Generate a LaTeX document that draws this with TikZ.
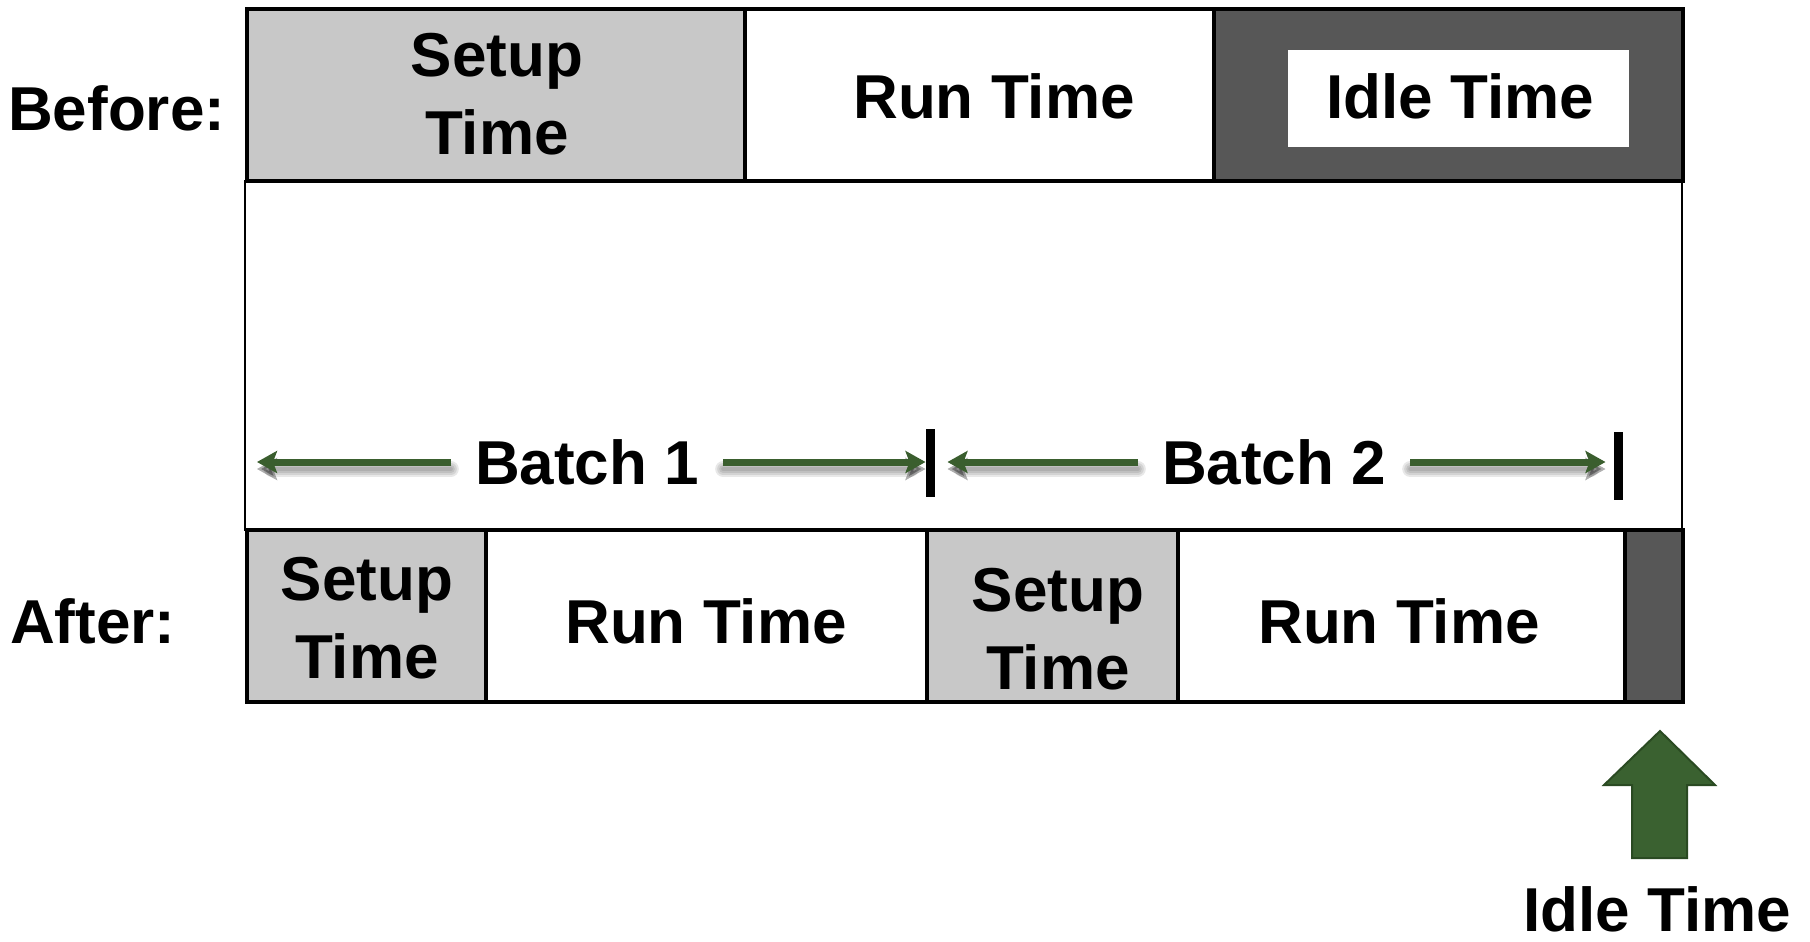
\documentclass[tikz,border=0pt]{standalone}
\usepackage{fontspec}
\setmainfont{Liberation Sans}
\usetikzlibrary{arrows.meta}
\definecolor{setupgray}{HTML}{C8C8C8}
\definecolor{idlegray}{HTML}{575757}
\definecolor{batchgreen}{HTML}{3A5E2E}
\definecolor{arrowfill}{HTML}{3A6130}
\definecolor{arrowedge}{HTML}{2A4A22}

\begin{document}
\begin{tikzpicture}[x=1pt,y=-1pt,
  lbl/.style={font=\fontsize{62}{78}\selectfont\bfseries, inner sep=0pt, align=center},
  seg/.style={draw=black, line width=4pt, inner sep=0pt, outer sep=0pt,
              anchor=north west, minimum height=172pt},
  frame/.style={draw=black, line width=2pt},
  marker/.style={fill=black, inner sep=0pt, outer sep=0pt,
                 minimum width=9pt, minimum height=68pt},
  batchlbl/.style={lbl, inner xsep=24pt},
  shadowline/.style={draw=black, opacity=0.09, line width=#1, line cap=round,
                     transform canvas={yshift=-7pt}},
  batch/.style={draw=batchgreen, line width=7pt,
                -{Stealth[length=20pt,width=22pt,inset=4pt]},
                preaction={shadowline=16pt},
                preaction={shadowline=12pt},
                preaction={shadowline=8pt},
                preaction={shadowline=4pt}},
  uparrow/.style={fill=arrowfill, draw=arrowedge, line width=2pt, line join=miter}
]
\useasboundingbox (0,0) rectangle (1810,942);

% frame joining the two time lines
\draw[frame] (245,181) rectangle (1682,530);

% time line before batching
\node[seg, fill=setupgray, minimum width=498pt] (tsetup) at (247,9) {};
\node[seg, fill=white, minimum width=469pt] (trun) at (745,9) {};
\node[seg, fill=idlegray, minimum width=469pt] (tidle) at (1214,9) {};
\node[fill=white, inner sep=0pt, anchor=north west,
      minimum width=341pt, minimum height=97pt] (tidlebox) at (1288,50) {};

\node[lbl] (tsetupT) at (497,94) {Setup\\Time};
\node[lbl] (trunT) at (994,96) {Run Time};
\node[lbl] (tidleT) at (1460,96) {Idle Time};
\node[lbl, anchor=west] (before) at (8,108) {Before:};

% time line after batching
\node[seg, fill=setupgray, minimum width=239pt] (bsetupA) at (247,530) {};
\node[seg, fill=white, minimum width=441pt] (brunA) at (486,530) {};
\node[seg, fill=setupgray, minimum width=251pt] (bsetupB) at (927,530) {};
\node[seg, fill=white, minimum width=447pt] (brunB) at (1178,530) {};
\node[seg, fill=idlegray, minimum width=58pt] (bidle) at (1625,530) {};

\node[lbl] (bsetupAT) at (367,618) {Setup\\Time};
\node[lbl] (brunAT) at (706,621) {Run Time};
\node[lbl] (bsetupBT) at (1058,629) {Setup\\Time};
\node[lbl] (brunBT) at (1399,621) {Run Time};
\node[lbl, anchor=west] (after) at (10,621) {After:};

% batch spans
\coordinate (start) at (257,462);
\node[marker] (m1) at (930,463) {};
\node[marker] (m2) at (1618,466) {};
\node[batchlbl] (b1) at (587,462) {Batch 1};
\node[batchlbl] (b2) at (1274,462) {Batch 2};

\draw[batch] (b1.west) -- (start);
\draw[batch] (b1.east) -- (b1.east -| m1.west);
\draw[batch, shorten >=13pt] (b2.west) -- (b2.west -| m1.east);
\draw[batch, shorten >=8pt] (b2.east) -- (b2.east -| m2.west);

% idle time pointer
\draw[uparrow] (1632,858) -- (1632,785) -- (1604,785) -- (1660,731)
  -- (1715,785) -- (1687,785) -- (1687,858) -- cycle;
\node[lbl] (idleT) at (1657,909) {Idle Time};
\end{tikzpicture}
\end{document}
